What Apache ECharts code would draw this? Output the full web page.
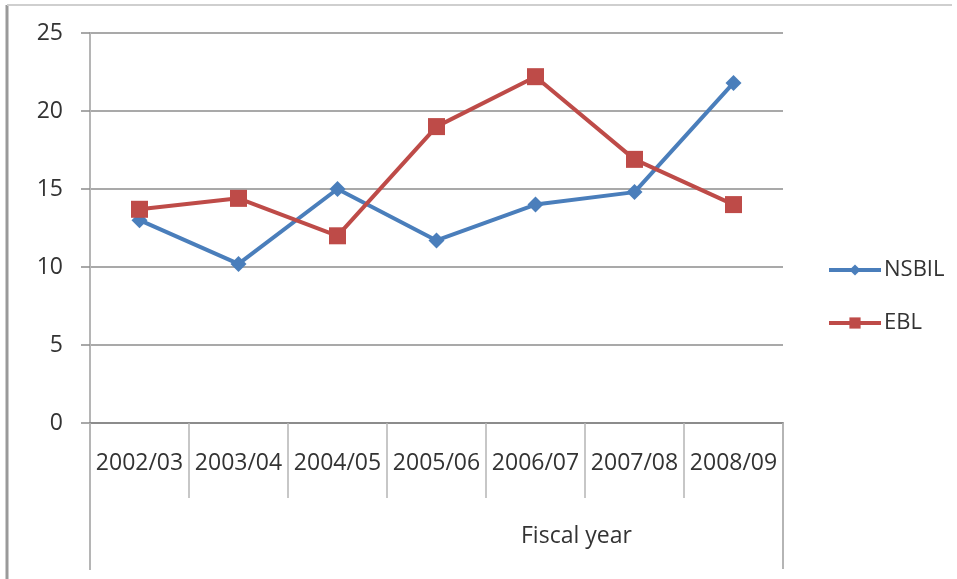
<!DOCTYPE html>
<html>
<head>
<meta charset="utf-8">
<script src="https://cdn.jsdelivr.net/npm/echarts@6/dist/echarts.min.js"></script>
<style>
  html, body { margin: 0; padding: 0; background: #fff; }
  #chart { width: 957px; height: 579px; }
</style>
</head>
<body>
<div id="chart"></div>
<script>
const fiscalYears = ['2002/03', '2003/04', '2004/05', '2005/06', '2006/07', '2007/08', '2008/09'];
const nsbil = [13.0, 10.2, 15.0, 11.7, 14.0, 14.8, 21.8];
const ebl = [13.7, 14.4, 12.0, 19.0, 22.2, 16.9, 14.0];
const yTicks = { min: 0, max: 25, interval: 5 };

const FONT = '"Open Sans", "Noto Sans", sans-serif';
const TEXT = '#333333';

const chart = echarts.init(document.getElementById('chart'), null, { renderer: 'canvas' });

const option = {
  backgroundColor: '#fff',
  animation: false,
  grid: { left: 90, right: 174, top: 33, bottom: 156, containLabel: false },
  legend: {
    orient: 'vertical',
    left: 822,
    top: 254,
    itemWidth: 52,
    itemHeight: 14,
    itemGap: 31,
    lineStyle: { width: 4 },
    textStyle: { fontFamily: FONT, fontSize: 22, color: TEXT, padding: [0, 0, 0, -2] },
    data: ['NSBIL', 'EBL']
  },
  xAxis: {
    type: 'category',
    data: fiscalYears,
    boundaryGap: true,
    axisLine: { show: true, lineStyle: { color: '#8c8c8c', width: 2 } },
    axisTick: { show: true, length: 75, lineStyle: { color: '#b5b5b5', width: 1.5 } },
    axisLabel: {
      margin: 29,
      fontFamily: FONT, fontSize: 23, color: TEXT,
      interval: 0
    },
    splitLine: { show: false }
  },
  yAxis: {
    type: 'value',
    min: yTicks.min, max: yTicks.max, interval: yTicks.interval,
    axisLine: { show: true, lineStyle: { color: '#b5b5b5', width: 2 } },
    axisTick: { show: true, length: 9, lineStyle: { color: '#8c8c8c', width: 1.5 } },
    axisLabel: { margin: 27, fontFamily: FONT, fontSize: 23, color: TEXT },
    splitLine: { show: true, lineStyle: { color: '#8c8c8c', width: 1.5 } }
  },
  series: [
    {
      name: 'NSBIL',
      type: 'line',
      data: nsbil,
      color: '#4a7ebb',
      symbol: 'diamond',
      symbolSize: 16,
      lineStyle: { width: 4, color: '#4a7ebb' },
      itemStyle: { color: '#4a7ebb' }
    },
    {
      name: 'EBL',
      type: 'line',
      data: ebl,
      color: '#be4b48',
      symbol: 'rect',
      symbolSize: 17,
      lineStyle: { width: 4, color: '#be4b48' },
      itemStyle: { color: '#be4b48' }
    }
  ],
  graphic: [
    // outer chart frame
    { type: 'line', shape: { x1: 7, y1: 5, x2: 7, y2: 579 }, style: { stroke: '#9a9a9a', lineWidth: 3 }, silent: true },
    { type: 'line', shape: { x1: 7, y1: 5, x2: 952, y2: 5 }, style: { stroke: '#cfcfcf', lineWidth: 2 }, silent: true },
    // outer bracket of the category axis box
    { type: 'line', shape: { x1: 90, y1: 423, x2: 90, y2: 570 }, style: { stroke: '#b5b5b5', lineWidth: 2 }, silent: true },
    { type: 'line', shape: { x1: 783, y1: 423, x2: 783, y2: 569 }, style: { stroke: '#b5b5b5', lineWidth: 2 }, silent: true },
    {
      type: 'text', left: 521, top: 525,
      style: { text: 'Fiscal year', font: '23px ' + FONT, fill: TEXT }
    }
  ]
};

chart.setOption(option);
</script>
</body>
</html>
